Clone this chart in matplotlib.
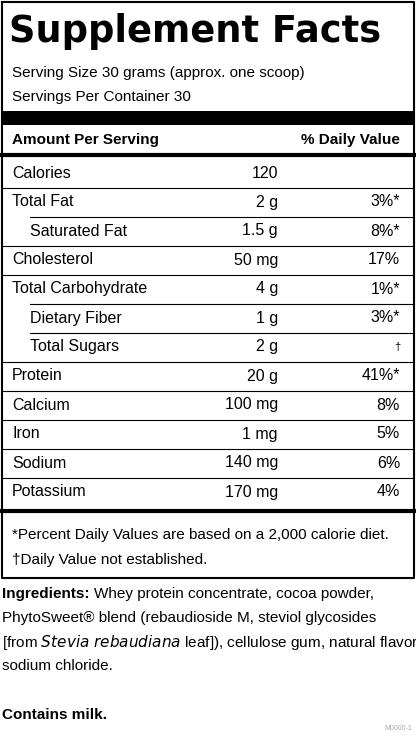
import matplotlib
matplotlib.use("Agg")
import matplotlib.pyplot as plt

nutrients = ["Calories", "Total Fat", "Saturated Fat", "Cholesterol", "Total Carbohydrate",
             "Dietary Fiber", "Total Sugars", "Protein", "Calcium", "Iron", "Sodium", "Potassium"]
amounts = ["120", "2 g", "1.5 g", "50 mg", "4 g", "1 g", "2 g", "20 g", "100 mg", "1 mg", "140 mg", "170 mg"]
daily_values = ["", "3%*", "8%*", "17%", "1%*", "3%*", "†", "41%*", "8%", "5%", "6%", "4%"]
indented = [False, False, True, False, False, True, True, False, False, False, False, False]

NARROW = ["Liberation Sans", "DejaVu Sans"]
FS = 11
fig = plt.figure(figsize=(4.16, 7.38), dpi=100)
ax = fig.add_axes([0, 0, 1, 1])
ax.set_xlim(0, 416)
ax.set_ylim(738, 0)
ax.axis("off")

ax.plot([2, 414, 414, 2, 2], [2, 2, 578, 578, 2], color="black", lw=1.5)
ax.text(9, 32, "Supplement Facts", fontsize=26.5, fontweight="bold", va="center", ha="left",
        family=["DejaVu Sans"])
ax.text(12, 73, "Serving Size 30 grams (approx. one scoop)", fontsize=FS, va="center", family=NARROW)
ax.text(12, 97, "Servings Per Container 30", fontsize=FS, va="center", family=NARROW)
ax.fill_between([2, 414], 111, 125, color="black", lw=0)
ax.text(12, 140, "Amount Per Serving", fontsize=FS, fontweight="bold", va="center", family=NARROW)
ax.text(400, 140, "% Daily Value", fontsize=FS, fontweight="bold", va="center", ha="right", family=NARROW)
ax.plot([2, 414], [155, 155], color="black", lw=3)

y0, dy = 173, 29
for i, (n, a, d, ind) in enumerate(zip(nutrients, amounts, daily_values, indented)):
    y = y0 + i * dy
    ax.text(30 if ind else 12, y, n, fontsize=FS + 0.5, va="center", family=NARROW)
    ax.text(278, y, a, fontsize=FS + 0.5, va="center", ha="right", family=NARROW)
    ax.text(400, y, d, fontsize=FS + 0.5 if d != "†" else 8, va="center", ha="right", family=NARROW)
    if i < len(nutrients) - 1:
        nxt = indented[i + 1]
        ax.plot([30 if nxt else 2, 414], [y + dy / 2, y + dy / 2], color="black", lw=0.8)
ax.plot([2, 414], [511, 511], color="black", lw=3)
ax.text(12, 535, "*Percent Daily Values are based on a 2,000 calorie diet.", fontsize=FS, va="center", family=NARROW)
ax.text(12, 560, "†Daily Value not established.", fontsize=FS, va="center", family=NARROW)

ing = [
    "Whey protein concentrate, cocoa powder,",
    "PhytoSweet® blend (rebaudioside M, steviol glycosides",
    "[from $\\it{Stevia\\ rebaudiana}$ leaf]), cellulose gum, natural flavor,",
    "sodium chloride.",
]
lab = ax.text(2, 594, "Ingredients:", fontsize=FS, fontweight="bold", va="center", family=NARROW)
fig.canvas.draw()
bb = lab.get_window_extent(fig.canvas.get_renderer())
xend = ax.transData.inverted().transform((bb.x1, bb.y0))[0]
ax.text(xend + 4, 594, ing[0], fontsize=FS, va="center", family=NARROW)
for k, line in enumerate(ing[1:]):
    ax.text(2, 618 + k * 24, line, fontsize=FS, va="center", family=NARROW)
ax.text(2, 715, "Contains milk.", fontsize=FS, fontweight="bold", va="center", family=NARROW)
ax.text(412, 728, "M0000-1", fontsize=5, va="center", ha="right", color="#aaaaaa", family=NARROW)
fig.savefig("out.png", dpi=100)
